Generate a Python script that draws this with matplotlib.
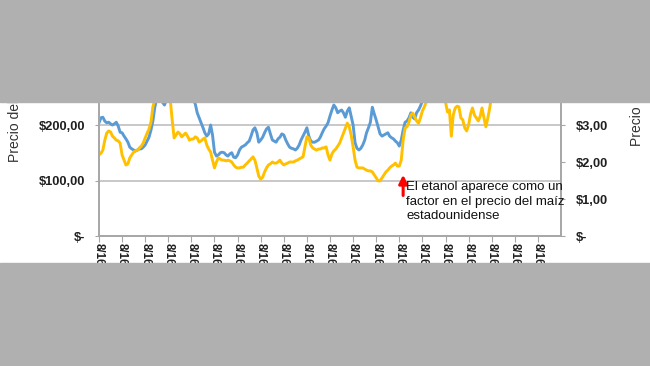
"""
    Precio del etanol vs. precio del maiz (recorte de un grafico de Excel)
"""
import pandas as pd
import matplotlib.pyplot as plt
from matplotlib.patches import Rectangle

plt.rcParams['font.family'] = ['Liberation Sans', 'DejaVu Sans']

# monthly samples starting 8/16/1993
start = '1993-08-16'

# blue series, left axis ($)
blue = [204, 213, 214, 207, 204, 205, 202, 200, 202, 205, 198, 187, 186, 180, 175, 169,
        160, 157, 155, 153, 155, 157, 157, 160, 164, 171, 178, 191, 207, 232, 249, 258,
        250, 241, 236, 245, 254, 263, 270, 274, 277, 281, 277, 270, 267, 263, 258, 252,
        249, 245, 238, 222, 213, 204, 195, 186, 180, 184, 200, 182, 151, 144, 146, 150,
        151, 150, 146, 144, 148, 150, 142, 141, 146, 155, 160, 162, 164, 168, 171, 180,
        191, 195, 186, 169, 173, 178, 186, 193, 196, 184, 173, 171, 169, 175, 178, 184,
        182, 173, 166, 160, 158, 157, 155, 158, 164, 173, 180, 187, 195, 180, 171, 169,
        169, 171, 173, 178, 186, 193, 198, 204, 216, 227, 236, 231, 222, 225, 227, 222,
        214, 225, 231, 216, 200, 168, 158, 155, 158, 164, 173, 186, 195, 205, 232, 220,
        209, 196, 184, 180, 182, 184, 186, 180, 177, 175, 171, 168, 162, 173, 191, 205,
        207, 213, 222, 214, 211, 222, 227, 234, 243, 252, 259, 267, 275, 285, 300, 320,
        340, 330, 310, 300, 290, 285, 280, 275, 270, 268, 272, 275, 270, 265, 262, 265,
        270, 275, 280, 285, 290, 300, 310, 305, 300, 310, 320, 315, 310, 305]

# yellow series, right axis ($)
yellow = [2.19, 2.24, 2.32, 2.59, 2.78, 2.84, 2.81, 2.70, 2.65, 2.59, 2.57, 2.51, 2.19, 2.05,
          1.92, 1.95, 2.11, 2.19, 2.27, 2.30, 2.32, 2.38, 2.43, 2.51, 2.65, 2.78, 2.89, 3.08,
          3.49, 3.70, 3.84, 3.95, 4.00, 4.05, 4.00, 3.89, 3.78, 3.68, 3.14, 2.65, 2.73, 2.81,
          2.76, 2.68, 2.73, 2.78, 2.70, 2.59, 2.62, 2.62, 2.68, 2.65, 2.54, 2.57, 2.62, 2.65,
          2.46, 2.35, 2.27, 2.05, 1.84, 2.00, 2.11, 2.08, 2.05, 2.05, 2.03, 2.05, 2.03, 2.00,
          1.92, 1.86, 1.84, 1.84, 1.86, 1.86, 1.92, 1.97, 2.03, 2.08, 2.14, 2.05, 1.84, 1.62,
          1.54, 1.59, 1.73, 1.84, 1.92, 1.95, 2.00, 1.97, 1.97, 2.00, 2.05, 1.97, 1.92, 1.95,
          1.97, 2.00, 2.00, 2.00, 2.03, 2.05, 2.08, 2.11, 2.14, 2.41, 2.68, 2.65, 2.46, 2.38,
          2.35, 2.32, 2.35, 2.35, 2.38, 2.38, 2.41, 2.19, 2.05, 2.22, 2.30, 2.35, 2.43, 2.51,
          2.65, 2.78, 2.92, 3.05, 2.95, 2.73, 2.41, 2.05, 1.86, 1.84, 1.84, 1.84, 1.81, 1.78,
          1.76, 1.76, 1.73, 1.65, 1.57, 1.49, 1.49, 1.57, 1.65, 1.73, 1.78, 1.84, 1.89, 1.92,
          1.97, 1.89, 1.89, 2.05, 2.59, 2.92, 2.95, 3.08, 3.27, 3.32, 3.22, 3.11, 3.05, 3.19,
          3.38, 3.49, 3.62, 3.84, 3.95, 4.05, 4.16, 4.27, 4.35, 4.22, 4.00, 3.78, 3.62, 3.35,
          3.41, 2.70, 3.27, 3.46, 3.51, 3.49, 3.19, 3.14, 2.92, 2.84, 3.00, 3.30, 3.46, 3.27,
          3.19, 3.11, 3.24, 3.46, 3.19, 2.95, 3.19, 3.46, 3.81]

years = list(range(1993, 2014))
tick_labels = ['8/16/%d' % y for y in years[:-1]]
left_ticks = [0, 100, 200, 300, 400]
left_labels = ['$-', '$100,00', '$200,00', '$300,00', '$400,00']
right_ticks = [0, 1, 2, 3, 4, 5, 6]
right_labels = ['$-', '$1,00', '$2,00', '$3,00', '$4,00', '$5,00', '$6,00']
note = 'El etanol aparece como un\nfactor en el precio del maíz\nestadounidense'

months = pd.DateOffset(months=1)
blue_dates = pd.date_range(start, periods=len(blue), freq=months)
yellow_dates = pd.date_range(start, periods=len(yellow), freq=months)
tick_dates = pd.to_datetime(['%d-08-16' % y for y in years])

W, H = 650, 366
fig = plt.figure(figsize=(W / 100, H / 100), dpi=100)
fig.patch.set_facecolor('white')

ax = fig.add_axes([99 / W, 1 - 236 / H, 462 / W, 222 / H])
ax2 = ax.twinx()

grid_c = '#b9b9b9'
spine_c = '#a6a6a6'
text_c = '#1f1f1f'

ax.plot(blue_dates, blue, color='#5b9bd5', lw=2.1)
ax2.plot(yellow_dates, yellow, color='#ffc000', lw=2.1)

ax.set_xlim(tick_dates[0], tick_dates[-1])
ax.set_ylim(0, 400)
ax2.set_ylim(0, 6)

for y in left_ticks[1:]:
    ax.axhline(y, color=grid_c, lw=1.1, zorder=0)

ax.set_xticks(tick_dates[:-1])
ax.set_xticklabels(tick_labels, rotation=270, fontsize=8.3, fontweight='bold',
                   color=text_c)
ax.set_yticks(left_ticks)
ax.set_yticklabels(left_labels, fontsize=9.3, fontweight='bold', color=text_c)
ax2.set_yticks(right_ticks)
ax2.set_yticklabels(right_labels, fontsize=9.3, fontweight='bold', color=text_c)

ax.tick_params(axis='x', length=4, color=spine_c, pad=1)
ax.tick_params(axis='y', length=3, color=spine_c, pad=7)
ax2.tick_params(axis='y', length=3, color=spine_c, pad=8)

for a in (ax, ax2):
    for s in a.spines.values():
        s.set_color(spine_c)
        s.set_linewidth(1.2)
    a.spines['top'].set_visible(False)

# arrow + note
arrow_date = pd.Timestamp('2006-10-16')
ax2.annotate('', xy=(arrow_date, 1.73), xytext=(arrow_date, 1.02),
             arrowprops=dict(arrowstyle='-|>,head_width=0.25,head_length=0.5',
                             color='red', lw=2.2))
ax2.text(pd.Timestamp('2006-12-01'), 1.48, note, fontsize=9.5, va='top', ha='left',
         linespacing=1.26, color='#111111')

fig.text(15 / W, 1 - 162 / H, 'Precio del etanol (US$/m³)', rotation=90,
         ha='center', va='bottom', fontsize=10, color='#333333')
fig.text(637 / W, 1 - 146 / H, 'Precio del maíz (US$/bushel)', rotation=90,
         ha='center', va='bottom', fontsize=10, color='#333333')

# grey bands that crop the chart
band = '#b0b0b0'
fig.add_artist(Rectangle((0, 1 - 102 / H), 1, 102 / H, transform=fig.transFigure,
                         color=band, zorder=10))
fig.add_artist(Rectangle((0, 0), 1, (H - 263) / H, transform=fig.transFigure,
                         color=band, zorder=10))

fig.savefig('out.png', dpi=100)
